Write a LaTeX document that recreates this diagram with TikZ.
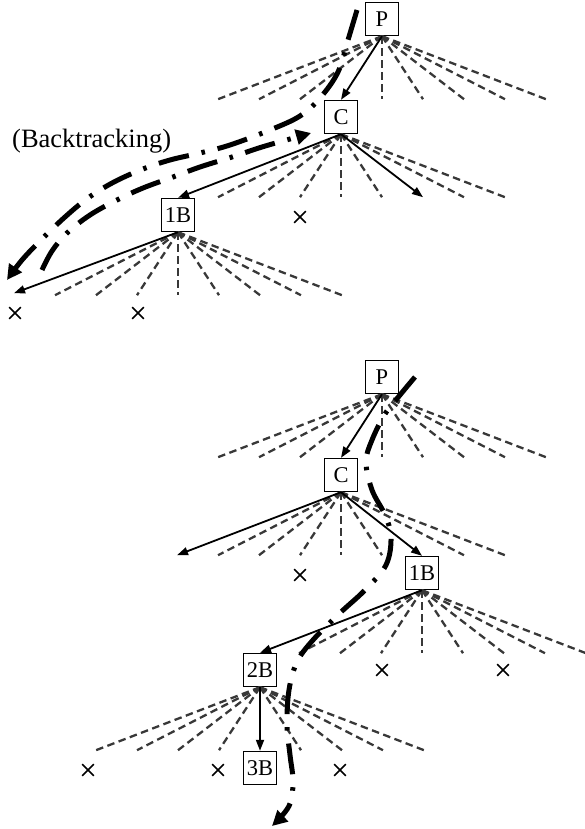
\documentclass[tikz,border=0pt]{standalone}
\usepackage{fontspec}
\setmainfont{Liberation Serif}
\usetikzlibrary{arrows.meta,shapes.misc}
\newcommand\drawfan[2]{%
  \foreach \i in {#2} {%
    \path (#1.south) ++(41*\i,63) coordinate (#1-e\i);
    \draw[branch] (#1.south) -- (#1-e\i);
  }%
}
\begin{document}
\begin{tikzpicture}[x=1pt,y=-1pt,
 box/.style={draw, line width=1.4pt, fill=white, minimum width=33pt, minimum height=33pt, inner sep=0pt, font=\fontsize{22.5}{26}\selectfont},
 branch/.style={draw=black!78, line width=2.3pt, dash pattern=on 7.5pt off 4.5pt},
 move/.style={line width=1.8pt, -{Triangle[length=11pt,width=8pt]}},
 track/.style={line width=5pt, dash pattern=on 31pt off 13pt on 3.5pt off 13pt, -{Triangle[length=15pt,width=15pt]}},
 dead/.style={cross out, draw, line width=1.6pt, minimum size=10pt, inner sep=0pt}
]
\useasboundingbox (0,0) rectangle (585,829);

% ---------- top tree ----------
\node[box] (Pa) at (382,19) {P};
\node[box] (Ca) at (341,117) {C};
\node[box] (Ba) at (178,215) {1B};
\node[font=\fontsize{26.5}{30}\selectfont, anchor=base west, inner sep=0pt] (bt) at (12,148) {(Backtracking)};

\drawfan{Pa}{-4,-3,-2,0,1,2,3,4}
\drawfan{Ca}{-3,-2,-1,0,1,3,4}
\drawfan{Ba}{-3,-2,-1,0,1,2,3,4}
\path (Ca.south) ++(82,63) coordinate (Ca-r);
\path (Ba.south) ++(-164,61) coordinate (Ba-l);
\draw[move] (Pa.south) -- (Ca.north);
\draw[move] (Ca.south) -- (Ba.north);
\draw[move] (Ca.south) -- (Ca-r);
\draw[move] (Ba.south) -- (Ba-l);

\node[dead] (xa1) at (300,217) {};
\node[dead] (xa2) at (15,313) {};
\node[dead] (xa3) at (138,313) {};

\draw[track] plot[smooth, tension=0.6] coordinates {(357,10) (348,40) (338,72) (320,98) (300,116) (270,130) (230,145) (200,153) (170,160) (143,169) (114,182) (88,198) (65,217) (42,239) (22,260) (7,280)};
\draw[track] plot[smooth, tension=0.6] coordinates {(42,270) (52,251) (67,233) (90,215) (117,200) (143,188) (173,177) (200,167) (232,157) (262,147) (290,139) (311,133)};

% ---------- bottom tree ----------
\node[box] (Pb) at (382,377) {P};
\node[box] (Cb) at (341,475) {C};
\node[box] (Bb) at (422,573) {1B};
\node[box] (Db) at (260,670) {2B};
\node[box] (Eb) at (260,768) {3B};

\drawfan{Pb}{-4,-3,-2,0,1,2,3,4}
\drawfan{Cb}{-3,-2,-1,0,1,3,4}
\drawfan{Bb}{-3,-2,-1,0,1,2,3,4}
\drawfan{Db}{-4,-3,-2,-1,1,2,3,4}
\path (Cb.south) ++(-164,63) coordinate (Cb-l);
\draw[move] (Pb.south) -- (Cb.north);
\draw[move] (Cb.south) -- (Cb-l);
\draw[move] (Cb.south) -- (Bb.north);
\draw[move] (Bb.south) -- (Db.north);
\draw[move] (Db.south) -- (Eb.north);

\node[dead] (xb1) at (300,575) {};
\node[dead] (xb2) at (382,670) {};
\node[dead] (xb3) at (503,670) {};
\node[dead] (xb4) at (88,770) {};
\node[dead] (xb5) at (218,770) {};
\node[dead] (xb6) at (340,770) {};

\draw[track] plot[smooth, tension=0.6] coordinates {(415,377) (400,395) (385,414) (372,440) (366,462) (372,490) (385,515) (391,537) (386,565) (365,590) (340,613) (313,640) (297,662) (289,690) (287,725) (290,755) (293,782) (289,806) (272,826)};
\end{tikzpicture}
\end{document}
